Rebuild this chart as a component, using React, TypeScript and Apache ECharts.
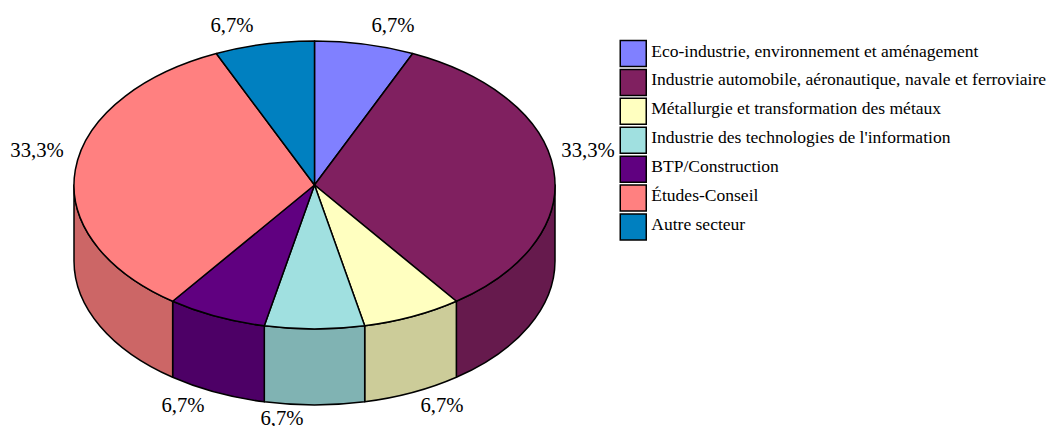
import React, { useEffect, useRef } from "react";
import * as echarts from "echarts";

const categories = [
  "Eco-industrie, environnement et aménagement",
  "Industrie automobile, aéronautique, navale et ferroviaire",
  "Métallurgie et transformation des métaux",
  "Industrie des technologies de l'information",
  "BTP/Construction",
  "Études-Conseil",
  "Autre secteur",
];
const values = [6.7, 33.3, 6.7, 6.7, 6.7, 33.3, 6.7];
const colors = ["#8080FF", "#802060", "#FFFFC0", "#A0E0E0", "#600080", "#FF8080", "#0080C0"];
const wallColors = ["#6666CC", "#661A4D", "#CCCC99", "#80B3B3", "#4D0066", "#CC6666", "#006699"];
const labelAnchors = [
  [393, 25],
  [588, 150],
  [442, 405],
  [282, 418],
  [183, 405],
  [37, 150],
  [232, 25],
];

const CX = 314.5;
const CY = 185;
const RX = 240.5;
const RY = 144;
const DEPTH = 76;
const FONT = '"Liberation Serif", "Times New Roman", serif';

const total = values.reduce((a, b) => a + b, 0);
const starts: number[] = [];
values.reduce((acc, v, i) => {
  starts[i] = acc;
  return acc + v / total;
}, 0);

const pt = (f: number, dy = 0) => {
  const a = f * Math.PI * 2;
  return [CX + RX * Math.sin(a), CY - RY * Math.cos(a) + dy];
};

function topPath(f0: number, f1: number) {
  const [x0, y0] = pt(f0);
  const [x1, y1] = pt(f1);
  const large = f1 - f0 > 0.5 ? 1 : 0;
  return `M${CX} ${CY}L${x0} ${y0}A${RX} ${RY} 0 ${large} 1 ${x1} ${y1}Z`;
}

function wallPath(f0: number, f1: number) {
  const a = Math.max(f0, 0.25);
  const b = Math.min(f1, 0.75);
  if (b <= a) return null;
  const [x0, y0] = pt(a);
  const [x1, y1] = pt(b);
  const [x2, y2] = pt(b, DEPTH);
  const [x3, y3] = pt(a, DEPTH);
  return `M${x0} ${y0}A${RX} ${RY} 0 0 1 ${x1} ${y1}L${x2} ${y2}A${RX} ${RY} 0 0 0 ${x3} ${y3}Z`;
}

function makeSeries(i: number) {
  const f0 = starts[i];
  const f1 = f0 + values[i] / total;
  return {
    type: "custom",
    name: categories[i],
    coordinateSystem: "none",
    itemStyle: { color: colors[i] },
    data: [[values[i]]],
    silent: true,
    renderItem: () => {
      const children: any[] = [];
      const wall = wallPath(f0, f1);
      if (wall) {
        children.push({
          type: "path",
          shape: { pathData: wall },
          style: { fill: wallColors[i], stroke: "#000", lineWidth: 1.5, lineJoin: "round" },
        });
      }
      children.push({
        type: "path",
        shape: { pathData: topPath(f0, f1) },
        style: { fill: colors[i], stroke: "#000", lineWidth: 1.5, lineJoin: "round" },
      });
      children.push({
        type: "text",
        style: {
          text: values[i].toFixed(1).replace(".", ",") + "%",
          x: labelAnchors[i][0],
          y: labelAnchors[i][1],
          fill: "#000",
          font: `20.7px ${FONT}`,
          align: "center",
          verticalAlign: "middle",
        },
      });
      return { type: "group", children };
    },
  };
}

export default function App() {
  const ref = useRef<HTMLDivElement>(null);
  useEffect(() => {
    document.body.style.margin = "0";
    const chart = echarts.init(ref.current!, undefined, { renderer: "svg" });
    chart.setOption({
      animation: false,
      backgroundColor: "#fff",
      legend: {
        orient: "vertical",
        left: 619.5,
        top: 39.8,
        padding: 0,
        itemWidth: 26,
        itemHeight: 26,
        itemGap: 1.4,
        icon: "rect",
        selectedMode: false,
        data: categories,
        itemStyle: { borderColor: "#000", borderWidth: 1.5 },
        formatter: (name: string) => `{a|${name}}`,
        textStyle: {
          fontFamily: FONT,
          fontSize: 17.55,
          color: "#000",
          rich: { a: { fontFamily: FONT, fontSize: 17.55, color: "#000", padding: [0, 0, 6, 0] } },
        },
      },
      series: categories.map((_, i) => makeSeries(i)),
    });
    return () => chart.dispose();
  }, []);
  return <div ref={ref} style={{ width: 1051, height: 426 }} />;
}
